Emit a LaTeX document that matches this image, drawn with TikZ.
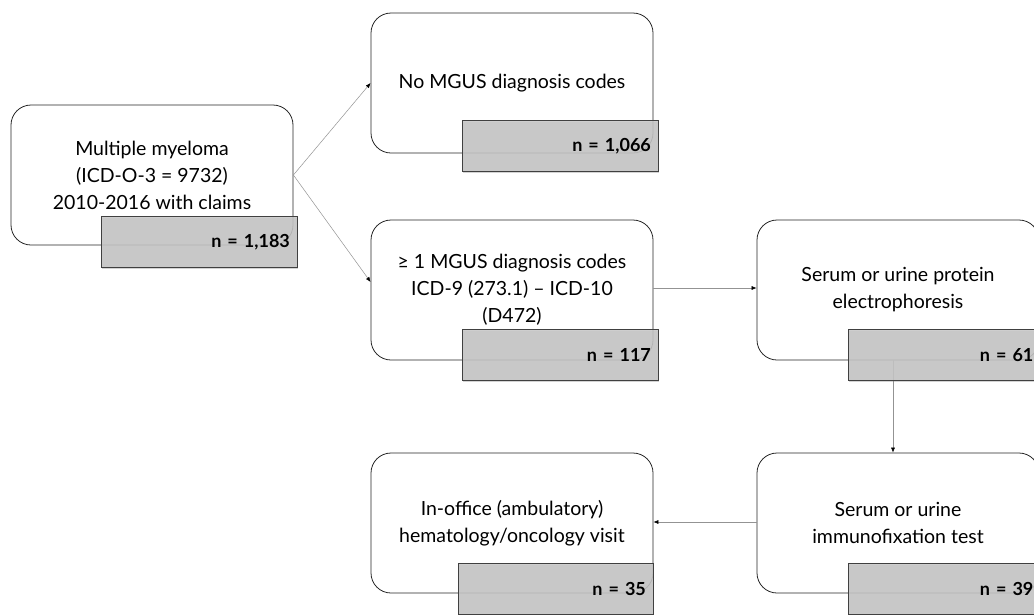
\documentclass[tikz,border=0pt]{standalone}
\usepackage{fontspec}
\setmainfont{Lato}
\usetikzlibrary{arrows.meta,shadows,positioning}

\tikzset{
  stepbox/.style = {draw = black!85, line width = .8pt, rounded corners = 20pt,
    minimum width = 282pt, minimum height = 140pt, align = center,
    font = \fontsize{19.5}{27}\selectfont},
  countbox/.style = {draw = black!75, line width = .6pt, fill = gray!45,
    fill opacity = .85, text opacity = 1, anchor = north west,
    minimum width = 196pt, minimum height = 51pt, text width = 182pt,
    align = right, font = \bfseries\fontsize{18}{22}\selectfont,
    drop shadow = {shadow xshift = 1.5pt, shadow yshift = -1.5pt, opacity = .35}},
  flow/.style = {draw = gray!85, line width = .5pt,
    -{Latex[black, length = 5pt, width = 4pt]}}
}

\begin{document}
\begin{tikzpicture}[x=1pt, y=-1pt]
\useasboundingbox (0,0) rectangle (1034,614);
\node[stepbox] (myeloma) at (152,175) {Multiple myeloma\\(ICD-O-3 = 9732)\\2010-2016 with claims};
\node[stepbox] (nomgus) at (512,83) {No MGUS diagnosis codes};
\node[stepbox] (mgus) at (512,290) {≥ 1 MGUS diagnosis codes\\ICD-9 (273.1) -- ICD-10\\(D472)};
\node[stepbox] (spep) at (898,290) {Serum or urine protein\\electrophoresis};
\node[stepbox] (ifix) at (898,523) {Serum or urine\\immunofixation test};
\node[stepbox] (visit) at (512,523) {In-office (ambulatory)\\hematology/oncology visit};

\draw[flow] (myeloma.east) -- (nomgus.west);
\draw[flow] (myeloma.east) -- ([yshift=8pt]mgus.west);
\draw[flow] ([yshift=2pt]mgus.east) -- ([yshift=2pt]spep.west);
\draw[flow] ([xshift=-5pt]spep.south) -- ([xshift=-5pt]ifix.north);
\draw[flow] ([yshift=1pt]ifix.west) -- ([yshift=1pt]visit.east);

\node[countbox] (nmyeloma) at ([xshift=90pt, yshift=29pt]myeloma.south west) {n = 1,183};
\node[countbox] (nnomgus) at ([xshift=91pt, yshift=33pt]nomgus.south west) {n = 1,066};
\node[countbox] (nmgus) at ([xshift=91pt, yshift=31pt]mgus.south west) {n = 117};
\node[countbox, text width = 175pt] (nspep) at ([xshift=91pt, yshift=31pt]spep.south west) {n = 61};
\node[countbox, text width = 175pt] (nifix) at ([xshift=91pt, yshift=30pt]ifix.south west) {n = 39};
\node[countbox, minimum width = 195pt, text width = 181pt] (nvisit) at ([xshift=87pt, yshift=30pt]visit.south west) {n = 35};
\end{tikzpicture}
\end{document}
